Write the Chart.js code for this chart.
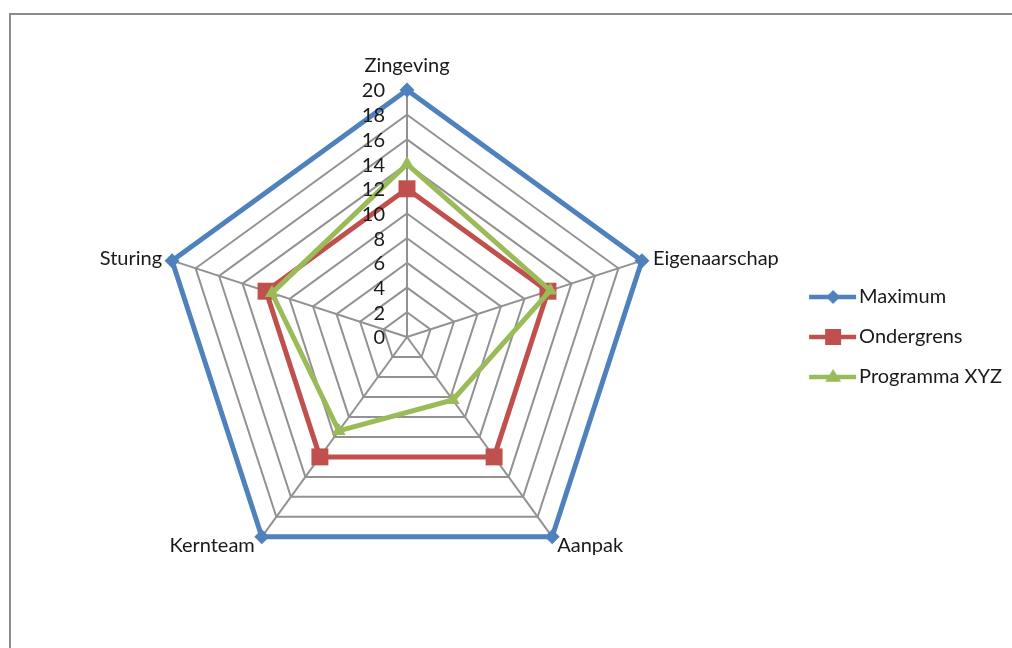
<!DOCTYPE html>
<html>
<head>
<meta charset="utf-8">
<script src="https://cdn.jsdelivr.net/npm/chart.js@4.4.1/dist/chart.umd.min.js"></script>
<style>
  html, body { margin: 0; padding: 0; background: #fff; }
  #wrap { position: relative; width: 1012px; height: 648px; }
  #frame { position: absolute; left: 9px; top: 13px; right: 0; bottom: 0;
           border-top: 2px solid #8c8c8c; border-left: 2px solid #8c8c8c; pointer-events: none; }
</style>
</head>
<body>
<div id="wrap">
  <canvas id="radar" width="1012" height="648"></canvas>
  <div id="frame"></div>
</div>
<script>
const categorieen = ['Zingeving', 'Eigenaarschap', 'Aanpak', 'Kernteam', 'Sturing'];
const maximum = [20, 20, 20, 20, 20];
const ondergrens = [12, 12, 12, 12, 12];
const programmaXYZ = [14, 12.2, 6.3, 9.4, 11.5];
const tickWaarden = [0, 2, 4, 6, 8, 10, 12, 14, 16, 18, 20];

const fontFam = 'Lato, "Open Sans", sans-serif';
const tekstKleur = '#1a1a1a';

// legend swatch: line with marker, like the spreadsheet legend
function swatch(kleur, vorm, r) {
    const c = document.createElement('canvas');
    c.width = 56; c.height = 24;
    const g = c.getContext('2d');
    g.strokeStyle = kleur; g.lineWidth = 4.5;
    g.beginPath(); g.moveTo(8, 12); g.lineTo(55, 12); g.stroke();
    g.fillStyle = kleur;
    g.beginPath();
    const mx = 32;
    if (vorm === 'diamond') {
        g.moveTo(mx - r, 12); g.lineTo(mx, 12 - r); g.lineTo(mx + r, 12); g.lineTo(mx, 12 + r);
    } else if (vorm === 'square') {
        g.rect(mx - r, 12 - r, 2 * r, 2 * r);
    } else {
        g.moveTo(mx, 12 - r); g.lineTo(mx + r, 12 + r * 0.6); g.lineTo(mx - r, 12 + r * 0.6);
    }
    g.closePath(); g.fill();
    return c;
}

const data = {
    labels: categorieen,
    datasets: [
        {
            label: 'Maximum', data: maximum, order: 3,
            borderColor: '#4F81BD', backgroundColor: '#4F81BD',
            borderWidth: 5, fill: false,
            pointStyle: 'rectRot', pointRadius: 7.5, pointBorderWidth: 0,
            legendIcon: swatch('#4F81BD', 'diamond', 7)
        },
        {
            label: 'Ondergrens', data: ondergrens, order: 2,
            borderColor: '#C0504D', backgroundColor: '#C0504D',
            borderWidth: 5, fill: false,
            pointStyle: 'rect', pointRadius: 12, pointBorderWidth: 0,
            legendIcon: swatch('#C0504D', 'square', 8)
        },
        {
            label: 'Programma XYZ', data: programmaXYZ, order: 1,
            borderColor: '#9BBB59', backgroundColor: '#9BBB59',
            borderWidth: 5, fill: false,
            pointStyle: 'triangle', pointRadius: 8, pointBorderWidth: 0,
            legendIcon: swatch('#9BBB59', 'triangle', 8)
        }
    ]
};

// tick numbers right-aligned left of the vertical axis, category names next to the outer corners
const asLabels = {
    id: 'asLabels',
    afterDatasetsDraw(chart) {
        const s = chart.scales.r;
        const ctx = chart.ctx;
        ctx.save();
        ctx.font = '20px ' + fontFam;
        ctx.fillStyle = tekstKleur;
        ctx.textBaseline = 'middle';
        ctx.textAlign = 'right';
        tickWaarden.forEach(v => {
            const d = s.getDistanceFromCenterForValue(v);
            ctx.fillText(String(v), s.xCenter - 22, s.yCenter - d + 1);
        });
        categorieen.forEach((naam, i) => {
            const p = s.getPointPosition(i, s.drawingArea);
            if (i === 0) {
                ctx.textAlign = 'center';
                ctx.fillText(naam, p.x, p.y - 24);
            } else if (p.y < s.yCenter) {
                ctx.textAlign = p.x > s.xCenter ? 'left' : 'right';
                ctx.fillText(naam, p.x + (p.x > s.xCenter ? 11 : -10), p.y - 2);
            } else {
                ctx.textAlign = p.x > s.xCenter ? 'left' : 'right';
                ctx.fillText(naam, p.x + (p.x > s.xCenter ? 5 : -7), p.y + 9);
            }
        });
        ctx.restore();
    }
};

const config = {
    type: 'radar',
    data: data,
    options: {
        responsive: false,
        animation: false,
        layout: { padding: { top: 90, bottom: 64, left: 25, right: 0 } },
        elements: { line: { tension: 0 } },
        scales: {
            r: {
                min: 0, max: 20,
                ticks: { stepSize: 2, display: false },
                grid: { color: '#929292', lineWidth: 2 },
                angleLines: { color: '#929292', lineWidth: 2 },
                pointLabels: { display: false }
            }
        },
        plugins: {
            tooltip: { enabled: false },
            legend: {
                position: 'right',
                labels: {
                    usePointStyle: true,
                    pointStyleWidth: 40,
                    padding: 20,
                    font: { family: fontFam, size: 20 },
                    generateLabels: (chart) => chart.data.datasets.map((ds, i) => ({
                        text: ds.label,
                        pointStyle: ds.legendIcon,
                        fillStyle: ds.borderColor,
                        strokeStyle: ds.borderColor,
                        fontColor: tekstKleur,
                        lineWidth: 0,
                        hidden: false,
                        datasetIndex: i
                    }))
                }
            }
        }
    },
    plugins: [asLabels]
};

const myChart = new Chart(document.getElementById('radar'), config);
</script>
</body>
</html>
